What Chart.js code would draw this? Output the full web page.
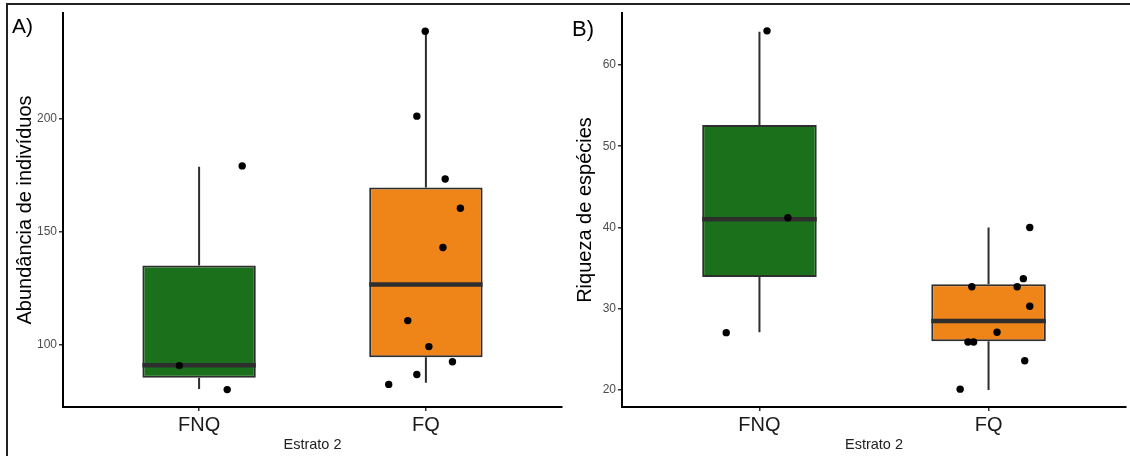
<!DOCTYPE html>
<html>
<head>
<meta charset="utf-8">
<script src="https://cdn.jsdelivr.net/npm/chart.js@4"></script>
<style>
body { margin: 0; width: 1130px; height: 456px; background: #fff; position: relative; overflow: hidden; font-family: "Liberation Sans", Arial, sans-serif; }
canvas { position: absolute; top: 0; }
#chartA { left: 0; }
#chartB { left: 566px; }
.frame { position: absolute; left: 6px; top: 3px; width: 1130px; height: 460px; border-top: 2px solid #222; border-left: 2px solid #222; }
.tag { position: absolute; color: #000; line-height: 1; }
</style>
</head>
<body>
<div class="frame"></div>
<canvas id="chartA" width="566" height="456"></canvas>
<canvas id="chartB" width="564" height="456"></canvas>
<div class="tag" style="left:12px; top:15px; font-size:21px;">A)</div>
<div class="tag" style="left:572px; top:18px; font-size:22px;">B)</div>
<script>
var FONT = '"Liberation Sans", Arial, sans-serif';

var categories = ['FNQ', 'FQ'];
var xTitle = 'Estrato 2';
var boxColors = ['#1b701b', '#ef8419'];

// A) abundance
var abundTicks = [100, 150, 200];
var abundQ1 = [85.3, 94.4];
var abundMedian = [90.9, 126.6];
var abundQ3 = [135, 169.5];
var abundLow = [80.4, 83.1];
var abundHigh = [178.6, 238.5];
var abundPtsX = [1.19, 0.913, 1.124, 1.997, 1.96, 2.085, 2.152, 2.075, 1.92, 2.013, 2.117, 1.96, 1.836];
var abundPtsY = [179.0, 90.7, 80.1, 238.5, 201.0, 173.2, 160.3, 142.9, 110.6, 99.1, 92.4, 86.8, 82.4];

// B) richness
var richTicks = [20, 30, 40, 50, 60];
var richQ1 = [33.9, 26.0];
var richMedian = [41.0, 28.5];
var richQ3 = [52.6, 33.0];
var richLow = [27.1, 20.0];
var richHigh = [64.1, 40.0];
var richPtsX = [1.033, 1.124, 0.855, 2.18, 2.152, 1.927, 2.125, 2.18, 2.037, 1.91, 1.935, 2.158, 1.876];
var richPtsY = [64.2, 41.2, 27.05, 40.0, 33.7, 32.7, 32.7, 30.3, 27.1, 25.9, 25.9, 23.6, 20.1];

function boxChart(id, o) {
    var boxes = [], whiskers = [], medians = [];
    categories.forEach(function(c, i) {
        var x = i + 1;
        boxes.push({ x: x, y: [o.q1[i], o.q3[i]] });
        whiskers.push({ x: x, y: o.low[i] }, { x: x, y: o.q1[i] }, { x: x, y: null },
                      { x: x, y: o.q3[i] }, { x: x, y: o.high[i] }, { x: x, y: null });
        medians.push({ x: x - 0.25, y: o.median[i] }, { x: x + 0.25, y: o.median[i] }, { x: x, y: null });
    });
    var pts = o.ptsX.map(function(x, i) { return { x: x, y: o.ptsY[i] }; });

    new Chart(document.getElementById(id), {
        data: {
            datasets: [
                { type: 'scatter', data: pts, order: 0, pointRadius: 3.7, pointBackgroundColor: '#000', pointBorderWidth: 0 },
                { type: 'line', data: medians, order: 1, borderColor: '#2e2e2e', borderWidth: 4.5, pointRadius: 0, spanGaps: false, borderCapStyle: 'butt' },
                { type: 'bar', data: boxes, order: 2, backgroundColor: boxColors, borderColor: '#2e2e2e', borderWidth: 2,
                  borderSkipped: false, barPercentage: 0.5, categoryPercentage: 1 },
                { type: 'line', data: whiskers, order: 3, borderColor: '#2e2e2e', borderWidth: 2, pointRadius: 0, spanGaps: false }
            ]
        },
        options: {
            responsive: false,
            animation: false,
            layout: { padding: { top: 13, right: o.padRight, left: 0, bottom: 0 } },
            plugins: { legend: { display: false }, tooltip: { enabled: false } },
            scales: {
                x: {
                    type: 'linear', min: 0.4, max: 2.6, offset: false,
                    afterBuildTicks: function(s) { s.ticks = categories.map(function(c, i) { return { value: i + 1 }; }); },
                    afterFit: function(s) { s.height = 49; },
                    ticks: { callback: function(v) { return categories[v - 1]; }, font: { size: 20, family: FONT }, color: '#1a1a1a', padding: 2, maxRotation: 0, autoSkip: false },
                    grid: { offset: false, drawOnChartArea: false, drawTicks: true, tickLength: 4, color: '#333', lineWidth: 1.5 },
                    border: { display: true, color: '#000', width: 2 },
                    title: { display: true, text: xTitle, font: { size: 14.5, family: FONT }, color: '#222', padding: { top: 0, bottom: 2 } }
                },
                y: {
                    min: o.min, max: o.max,
                    afterBuildTicks: function(s) { s.ticks = o.ticks.map(function(v) { return { value: v }; }); },
                    afterFit: function(s) { s.width = o.axisW; },
                    ticks: { font: { size: 12, family: FONT }, color: '#4d4d4d', padding: 2 },
                    grid: { drawOnChartArea: false, drawTicks: true, tickLength: 4, color: '#333', lineWidth: 1.5 },
                    border: { display: true, color: '#000', width: 2 },
                    title: { display: true, text: o.yTitle, font: { size: 20, family: FONT }, color: '#000', padding: { top: o.titlePad, bottom: 0 } }
                }
            }
        }
    });
}

boxChart('chartA', {
    q1: abundQ1, median: abundMedian, q3: abundQ3, low: abundLow, high: abundHigh,
    ptsX: abundPtsX, ptsY: abundPtsY, ticks: abundTicks, min: 72.4, max: 246.6,
    yTitle: 'Abundância de indivíduos', axisW: 63, titlePad: 13, padRight: 1
});

boxChart('chartB', {
    q1: richQ1, median: richMedian, q3: richQ3, low: richLow, high: richHigh,
    ptsX: richPtsX, ptsY: richPtsY, ticks: richTicks, min: 17.9, max: 66.4,
    yTitle: 'Riqueza de espécies', axisW: 56, titlePad: 7, padRight: 0
});
</script>
</body>
</html>
